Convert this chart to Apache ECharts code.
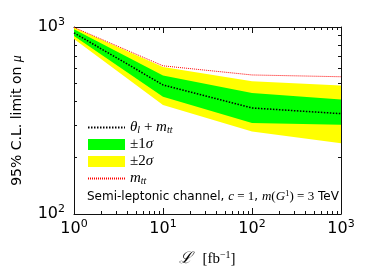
<!DOCTYPE html>
<html><head><meta charset="utf-8">
<script src="https://cdn.jsdelivr.net/npm/echarts@6/dist/echarts.min.js"></script>
<style>html,body{margin:0;padding:0;background:#fff}#c{width:374px;height:280px}</style>
</head><body><div id="c"></div>
<script>
// ---- data ----
const lumi      = [1, 10, 100, 1000];
const expMedian = [930, 490, 369, 344];
const mttOnly   = [995, 620, 554, 542];
const sigma1Up  = [972, 550, 444, 409];
const sigma1Dn  = [895, 424, 307, 300];
const sigma2Up  = [995, 612, 512, 486];
const sigma2Dn  = [862, 383, 276, 239];
const xMajorTicks = [1, 10, 100, 1000];
const yMajorTicks = [100, 1000];
const xMinorTicks = [2,3,4,5,6,7,8,9,20,30,40,50,60,70,80,90,200,300,400,500,600,700,800,900];
const yMinorTicks = [200,300,400,500,600,700,800,900];

const SANS = 'DejaVu Sans';
const SERIF = 'Liberation Serif';

const tickRich = {
  b: {fontFamily: SANS, fontSize: 16, lineHeight: 20, color: '#000', verticalAlign: 'middle'},
  e: {fontFamily: SANS, fontSize: 11, lineHeight: 11, color: '#000', verticalAlign: 'top'}
};
function powLabel(v) {
  return '{b|10}{e|' + Math.round(Math.log10(v)) + '}';
}

function bandItem(upper, lower) {
  return function (params, api) {
    const pts = [];
    for (let i = 0; i < lumi.length; i++) pts.push(api.coord([lumi[i], upper[i]]));
    for (let i = lumi.length - 1; i >= 0; i--) pts.push(api.coord([lumi[i], lower[i]]));
    return {type: 'polygon', shape: {points: pts}, style: {fill: api.visual('color')}};
  };
}

const lineCol = '#111';
function baseAxis(type, extra) {
  return Object.assign({
    type: 'log', logBase: 10,
    min: type === 'x' ? 1 : 100, max: 1000,
    splitLine: {show: false},
    axisLine: {show: false},
    axisLabel: {show: false},
    axisTick: {show: false}
  }, extra);
}

const xAxes = [
  baseAxis('x', {position: 'bottom',
    axisLine: {show: true, onZero: false, lineStyle: {color: lineCol, width: 1}},
    axisTick: {show: true, inside: true, length: 6, customValues: xMajorTicks, lineStyle: {color: lineCol}},
    axisLabel: {show: true, customValues: xMajorTicks, margin: 5, formatter: powLabel, rich: tickRich},
    name: '{l|ℒ}   {t|[fb}{e|−1}{t|]}',
    nameLocation: 'middle', nameGap: 36,
    nameTextStyle: {rich: {
      l: {fontFamily: SERIF, fontStyle: 'italic', fontSize: 16, lineHeight: 18, color: '#000'},
      t: {fontFamily: SERIF, fontSize: 15, lineHeight: 18, color: '#000'},
      e: {fontFamily: SERIF, fontSize: 10, lineHeight: 10, color: '#000', verticalAlign: 'top'}
    }}
  }),
  baseAxis('x', {position: 'bottom',
    axisTick: {show: true, inside: true, length: 3, customValues: xMinorTicks, lineStyle: {color: lineCol}}}),
  baseAxis('x', {position: 'top',
    axisLine: {show: true, onZero: false, lineStyle: {color: lineCol, width: 1}},
    axisTick: {show: true, inside: true, length: 6, customValues: xMajorTicks, lineStyle: {color: lineCol}}}),
  baseAxis('x', {position: 'top',
    axisTick: {show: true, inside: true, length: 3, customValues: xMinorTicks, lineStyle: {color: lineCol}}})
];
const yAxes = [
  baseAxis('y', {position: 'left',
    axisLine: {show: true, onZero: false, lineStyle: {color: lineCol, width: 1}},
    axisTick: {show: true, inside: true, length: 6, customValues: yMajorTicks, lineStyle: {color: lineCol}},
    axisLabel: {show: true, customValues: yMajorTicks, margin: 9, formatter: powLabel, rich: tickRich},
    name: '{a|95% C.L. limit on }{m|μ}',
    nameLocation: 'middle', nameGap: 49,
    nameTextStyle: {rich: {
      a: {fontFamily: SANS, fontSize: 14, lineHeight: 16, color: '#000'},
      m: {fontFamily: SERIF, fontStyle: 'italic', fontSize: 14, lineHeight: 16, color: '#000'}
    }}
  }),
  baseAxis('y', {position: 'left',
    axisTick: {show: true, inside: true, length: 3, customValues: yMinorTicks, lineStyle: {color: lineCol}}}),
  baseAxis('y', {position: 'right',
    axisLine: {show: true, onZero: false, lineStyle: {color: lineCol, width: 1}},
    axisTick: {show: true, inside: true, length: 6, customValues: yMajorTicks, lineStyle: {color: lineCol}}}),
  baseAxis('y', {position: 'right',
    axisTick: {show: true, inside: true, length: 3, customValues: yMinorTicks, lineStyle: {color: lineCol}}})
];

const legendRich = {
  i: {fontFamily: SERIF, fontStyle: 'italic', fontSize: 15, lineHeight: 15, color: '#000'},
  n: {fontFamily: SERIF, fontSize: 15, lineHeight: 15, color: '#000'},
  s: {fontFamily: SERIF, fontStyle: 'italic', fontSize: 10, lineHeight: 9, color: '#000', verticalAlign: 'bottom'}
};
const legendText = {
  median: '{i|θ}{s|l}{n| + }{i|m}{s|tt}',
  sig1: '{n|±1}{i|σ}',
  sig2: '{n|±2}{i|σ}',
  mtt: '{i|m}{s|tt}'
};

const xy = lumi.map((x, i) => [x, expMedian[i]]);
const xyMtt = lumi.map((x, i) => [x, mttOnly[i]]);

const chart = echarts.init(document.getElementById('c'), null, {renderer: 'canvas'});
chart.setOption({
  animation: false,
  backgroundColor: '#fff',
  grid: {left: 74, right: 33, top: 27, bottom: 66},
  xAxis: xAxes,
  yAxis: yAxes,
  legend: {
    orient: 'vertical', left: 87, top: 120,
    itemWidth: 37, itemHeight: 11, itemGap: 2,
    padding: 0,
    data: [
      {name: 'median', itemStyle: {opacity: 0, borderWidth: 0}},
      {name: 'sig1', icon: 'rect'},
      {name: 'sig2', icon: 'rect'},
      {name: 'mtt', itemStyle: {opacity: 0, borderWidth: 0}}
    ],
    formatter: n => legendText[n],
    textStyle: {rich: legendRich},
    selectedMode: false
  },
  graphic: [{
    type: 'text', left: 87, top: 189,
    style: {
      text: '{t|Semi-leptonic channel, }{m|c}{n| = 1}{t|, }{m|m}{n|(}{m|G}{e|1}{n|) = 3}{t| TeV}',
      rich: {
        t: {fontFamily: SANS, fontSize: 12, lineHeight: 15, fill: '#000'},
        m: {fontFamily: SERIF, fontStyle: 'italic', fontSize: 13, lineHeight: 15, fill: '#000'},
        n: {fontFamily: SERIF, fontSize: 13, lineHeight: 15, fill: '#000'},
        e: {fontFamily: SERIF, fontSize: 9, lineHeight: 9, fill: '#000', verticalAlign: 'top'}
      }
    }
  }],
  series: [
    {name: 'sig2', type: 'custom', renderItem: bandItem(sigma2Up, sigma2Dn),
     data: [[lumi[0], expMedian[0]]], itemStyle: {color: '#ffff00'}, z: 1, silent: true},
    {name: 'sig1', type: 'custom', renderItem: bandItem(sigma1Up, sigma1Dn),
     data: [[lumi[0], expMedian[0]]], itemStyle: {color: '#00ff00'}, z: 2, silent: true},
    {name: 'median', type: 'line', data: xy, symbol: 'none', z: 3,
     itemStyle: {color: '#000'},
     lineStyle: {color: '#000', width: 1.5, type: [1.5, 1.5]}},
    {name: 'mtt', type: 'line', data: xyMtt, symbol: 'none', z: 4,
     itemStyle: {color: '#ff0000'},
     lineStyle: {color: '#ff0000', width: 1, type: [1, 1]}}
  ]
});
</script>
</body></html>
